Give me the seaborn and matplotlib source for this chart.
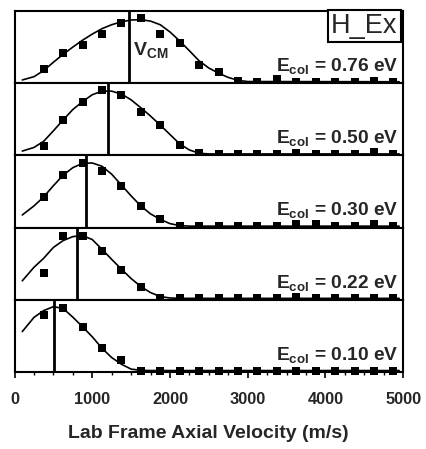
import numpy as np
import pandas as pd
import matplotlib
matplotlib.use("Agg")
import matplotlib.pyplot as plt
from matplotlib.ticker import MultipleLocator
import seaborn as sns

# ---------------- data ----------------
energies = ["0.76", "0.50", "0.30", "0.22", "0.10"]

v_points = [375, 625, 875, 1125, 1375, 1625, 1875, 2125, 2375, 2625,
            2875, 3125, 3375, 3625, 3875, 4125, 4375, 4625, 4875]

pts_076 = [0.178, 0.405, 0.51, 0.66, 0.81, 0.88, 0.66, 0.535, 0.233, 0.142,
           0.01, 0.0, 0.035, 0.0, 0.0, 0.0, 0.0, 0.015, 0.0]
pts_050 = [0.108, 0.47, 0.72, 0.886, 0.81, 0.58, 0.40, 0.13, 0.007, 0.0,
           0.0, 0.0, 0.0, 0.02, 0.0, 0.0, 0.0, 0.03, 0.0]
pts_030 = [0.405, 0.705, 0.88, 0.757, 0.55, 0.28, 0.094, 0.0, 0.0, 0.0,
           0.0, 0.0, 0.0, 0.03, 0.03, 0.0, 0.0, 0.03, 0.0]
pts_022 = [0.358, 0.858, 0.868, 0.66, 0.396, 0.16, 0.01, 0.0, 0.0, 0.0,
           0.0, 0.0, 0.0, 0.015, 0.0, 0.0, 0.0, 0.0, 0.0]
pts_010 = [0.773, 0.865, 0.607, 0.31, 0.153, 0.0, 0.0, 0.0, 0.0, 0.0,
           0.0, 0.0, 0.0, 0.0, 0.0, 0.0, 0.0, 0.0, 0.0]

v_fit = [100, 250, 375, 500, 625, 750, 875, 1000, 1125, 1250, 1375, 1500,
         1625, 1750, 1875, 2000, 2125, 2250, 2375, 2500, 2625, 2750, 2875,
         3000, 4950]

fit_076 = [0.025, 0.07, 0.155, 0.27, 0.38, 0.48, 0.575, 0.66, 0.735, 0.79,
           0.83, 0.855, 0.86, 0.84, 0.79, 0.69, 0.565, 0.43, 0.29, 0.19,
           0.12, 0.06, 0.02, 0.003, 0.0]
fit_050 = [0.04, 0.09, 0.175, 0.32, 0.47, 0.615, 0.725, 0.82, 0.87, 0.87,
           0.83, 0.75, 0.64, 0.525, 0.40, 0.27, 0.14, 0.055, 0.01, 0.0,
           0.0, 0.0, 0.0, 0.0, 0.0]
fit_030 = [0.155, 0.28, 0.405, 0.56, 0.705, 0.81, 0.87, 0.875, 0.83, 0.72,
           0.57, 0.42, 0.28, 0.17, 0.094, 0.035, 0.008, 0.0, 0.0, 0.0,
           0.0, 0.0, 0.0, 0.0, 0.0]
fit_022 = [0.243, 0.43, 0.555, 0.705, 0.80, 0.855, 0.868, 0.815, 0.68, 0.54,
           0.405, 0.275, 0.164, 0.08, 0.025, 0.005, 0.0, 0.0, 0.0, 0.0,
           0.0, 0.0, 0.0, 0.0, 0.0]
fit_010 = [0.54, 0.736, 0.83, 0.885, 0.86, 0.74, 0.607, 0.468, 0.31, 0.18,
           0.088, 0.02, 0.003, 0.0, 0.0, 0.0, 0.0, 0.0, 0.0, 0.0,
           0.0, 0.0, 0.0, 0.0, 0.0]

v_cm = [1475, 1205, 920, 808, 510]

x_ticks = [0, 1000, 2000, 3000, 4000, 5000]
x_label = "Lab Frame Axial Velocity (m/s)"
box_label = "H_Ex"

points = [pts_076, pts_050, pts_030, pts_022, pts_010]
fits = [fit_076, fit_050, fit_030, fit_022, fit_010]

# ---------------- style ----------------
sns.set_style("ticks")
plt.rcParams["font.family"] = ["Liberation Sans", "DejaVu Sans"]
plt.rcParams["mathtext.fontset"] = "custom"
plt.rcParams["mathtext.rm"] = "Liberation Sans:bold"
plt.rcParams["mathtext.it"] = "Liberation Sans:bold"
plt.rcParams["mathtext.bf"] = "Liberation Sans:bold"
plt.rcParams["mathtext.default"] = "rm"

fig, axes = plt.subplots(5, 1, figsize=(4.27, 4.49), dpi=100, sharex=True,
                         gridspec_kw=dict(hspace=0))
fig.subplots_adjust(left=0.034, right=0.944, top=0.9755, bottom=0.1715)

for i, ax in enumerate(axes):
    dfp = pd.DataFrame({"v": v_points, "I": points[i]})
    dff = pd.DataFrame({"v": v_fit, "I": fits[i]})
    sns.lineplot(data=dff, x="v", y="I", ax=ax, color="black", lw=1.2,
                 estimator=None, sort=False, zorder=3)
    sns.scatterplot(data=dfp, x="v", y="I", ax=ax, color="black", marker="s",
                    s=36, linewidth=0, zorder=5, clip_on=False)
    ax.axvline(v_cm[i], color="black", lw=2.0, zorder=4)
    ax.set_xlim(0, 5000)
    ax.set_ylim(-0.02, 0.98)
    ax.set_yticks([])
    ax.set_ylabel("")
    ax.set_xlabel("")
    for sp in ax.spines.values():
        sp.set_visible(True)
        sp.set_linewidth(1.5)
        sp.set_color("black")
    ax.xaxis.set_major_locator(MultipleLocator(1000))
    ax.xaxis.set_minor_locator(MultipleLocator(250))
    ax.tick_params(axis="x", which="major", direction="out", length=4.5,
                   width=1.2, color="black", bottom=True, top=False)
    ax.tick_params(axis="x", which="minor", direction="out", length=2.2,
                   width=1.0, color="black", bottom=True, top=False)
    ax.text(4945, 0.15, r"E$_{col}$ = " + energies[i] + " eV",
            ha="right", va="baseline", fontsize=13.8, fontweight="bold",
            zorder=6)

axes[0].text(1530, 0.37, r"V$_{CM}$", ha="left", va="baseline",
             fontsize=14, fontweight="bold")
axes[0].text(0.986, 0.972, box_label, transform=axes[0].transAxes,
             ha="right", va="top", fontsize=19.5,
             bbox=dict(boxstyle="square,pad=0.12", fc="white", ec="black",
                       lw=1.5))

bottom = axes[-1]
bottom.set_xticks(x_ticks)
bottom.set_xticklabels([str(t) for t in x_ticks], fontsize=11.8,
                       fontweight="bold")
bottom.tick_params(axis="x", which="major", pad=10)
bottom.set_xlabel(x_label, fontsize=14, fontweight="bold", labelpad=13)

fig.savefig("out.png", dpi=100)
